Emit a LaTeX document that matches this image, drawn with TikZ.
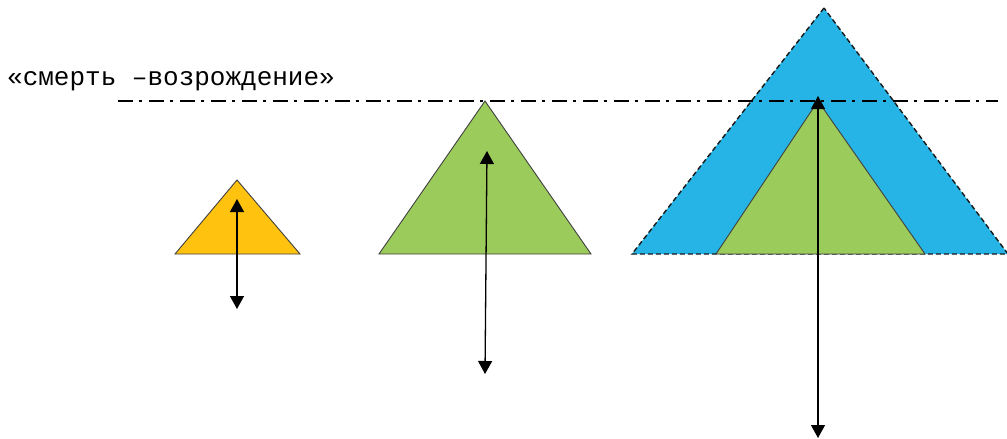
\documentclass[tikz,border=0pt]{standalone}
\usepackage{fontspec}
\setmonofont{Liberation Mono}
\usetikzlibrary{arrows.meta}
\definecolor{tyellow}{RGB}{255,194,14}
\definecolor{tgreen}{RGB}{155,203,91}
\definecolor{tblue}{RGB}{38,180,230}
\tikzset{
  tri/.style={draw=black!75, line width=0.9pt, line join=miter},
  dtri/.style={draw=black!90, line width=1.4pt, dash pattern=on 5pt off 3pt},
  arr/.style={line width=1.3pt, {Triangle[length=13pt,width=14pt]}-{Triangle[length=13pt,width=14pt]}},
  axis/.style={line width=1.1pt, dash pattern=on 15pt off 6pt on 3pt off 7pt},
}
\begin{document}
\begin{tikzpicture}[x=1pt,y=-1pt]
\useasboundingbox (0,0) rectangle (1007,439);
\node[font=\ttfamily\fontsize{26}{30}\selectfont, anchor=base west, inner sep=0pt] (lbl) at (7,85) {«смерть –возрождение»};
\coordinate (aL) at (118,101);
\coordinate (aR) at (998,101);
% yellow
\fill[tyellow] (237,180) -- (175,254) -- (300,254) -- cycle;
\draw[tri] (237,180) -- (175,254) -- (300,254) -- cycle;
% green 2
\fill[tgreen] (485,101) -- (379,254) -- (591,254) -- cycle;
\draw[tri] (485,101) -- (379,254) -- (591,254) -- cycle;
% blue
\fill[tblue] (824,8) -- (632,254) -- (1008,254) -- cycle;
\draw[dtri] (824,8) -- (632,254) -- (1008,254) -- cycle;
% inner green
\fill[tgreen] (818,101) -- (716,254) -- (925,254) -- cycle;
\draw[tri] (818,101) -- (716,254) -- (925,254) -- cycle;
\draw[axis] (aL) -- (aR);
% arrows
\coordinate (y1) at (237,199);
\coordinate (y2) at (237,309);
\coordinate (g1) at (487,151);
\coordinate (g2) at (485,374);
\coordinate (b1) at (818,96);
\coordinate (b2) at (818,438);
\draw[arr] (y2) -- (y1);
\draw[arr] (g2) -- (g1);
\draw[arr] (b2) -- (b1);
\end{tikzpicture}
\end{document}
